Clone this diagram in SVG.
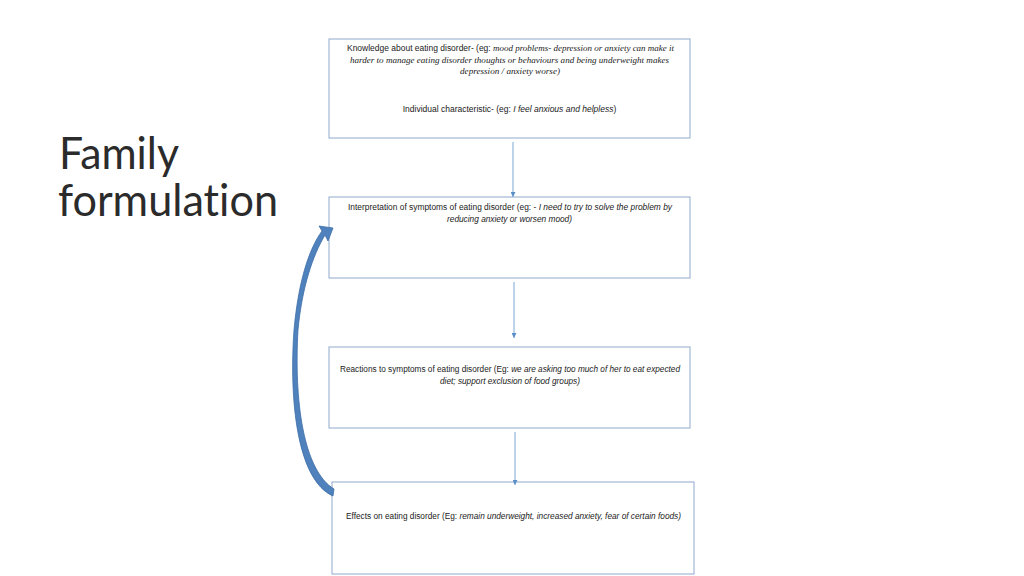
<svg xmlns="http://www.w3.org/2000/svg" width="1024" height="576" viewBox="0 0 1024 576">
<defs>
<style>
.box{fill:#fff;stroke:#8eaacc;stroke-width:1}
.t{font-family:"Liberation Sans",Arial,sans-serif;font-size:8.5px;fill:#1a1a1a}
.i{font-style:italic}
.s{font-family:"Liberation Serif","Times New Roman",serif;font-style:italic;font-size:9px}
.con{stroke:#7aa7d6;stroke-width:1;fill:none}
.title{font-family:Lato,"Liberation Sans",sans-serif;font-weight:400;font-size:44px;fill:#2b2b2b;font-variant-ligatures:none}
</style>
<marker id="ah" viewBox="0 0 6 6" refX="6" refY="3" markerWidth="5" markerHeight="5" orient="auto" markerUnits="userSpaceOnUse">
<path d="M0,0 L6,3 L0,6 Z" fill="#5b8fc7"/>
</marker>
</defs>
<rect width="1024" height="576" fill="#fff"/>
<g id="title">
<text class="title" x="59" y="169" textLength="120" lengthAdjust="spacingAndGlyphs">Family</text>
<text class="title" x="58" y="216" textLength="220" lengthAdjust="spacingAndGlyphs">formulation</text>
</g>
<g id="node1">
<rect class="box" x="329" y="39" width="361" height="99"/>
<text class="t" x="347" y="51" textLength="327" lengthAdjust="spacingAndGlyphs">Knowledge about eating disorder- (eg: <tspan class="s">mood problems- depression or anxiety can make it</tspan></text>
<text class="t s" x="350" y="63" textLength="319" lengthAdjust="spacingAndGlyphs">harder to manage eating disorder thoughts or behaviours and being underweight makes</text>
<text class="t s" x="460" y="74" textLength="100" lengthAdjust="spacingAndGlyphs">depression / anxiety worse)</text>
<text class="t" x="509.5" y="112" text-anchor="middle">Individual characteristic- (eg: <tspan class="i">I feel anxious and helpless</tspan>)</text>
</g>
<g id="node2">
<rect class="box" x="329" y="197" width="361" height="81"/>
<text class="t" x="348" y="210" textLength="324" lengthAdjust="spacingAndGlyphs">Interpretation of symptoms of eating disorder (eg: - <tspan class="i">I need to try to solve the problem by</tspan></text>
<text class="t i" x="447" y="222" textLength="125" lengthAdjust="spacingAndGlyphs">reducing anxiety or worsen mood)</text>
</g>
<g id="node3">
<rect class="box" x="329" y="347" width="361" height="81"/>
<text class="t" x="340" y="372" textLength="340" lengthAdjust="spacingAndGlyphs">Reactions to symptoms of eating disorder (Eg: <tspan class="i">we are asking too much of her to eat expected</tspan></text>
<text class="t i" x="440" y="384" textLength="140" lengthAdjust="spacingAndGlyphs">diet; support exclusion of food groups)</text>
</g>
<g id="node4">
<rect class="box" x="332" y="482" width="362" height="92"/>
<text class="t" x="346" y="519" textLength="335" lengthAdjust="spacingAndGlyphs">Effects on eating disorder (Eg: <tspan class="i">remain underweight, increased anxiety, fear of certain foods)</tspan></text>
</g>
<g id="connectors">
<line class="con" x1="513" y1="142" x2="513" y2="197" marker-end="url(#ah)"/>
<line class="con" x1="514" y1="282" x2="514" y2="338" marker-end="url(#ah)"/>
<line class="con" x1="515" y1="432" x2="515" y2="485" marker-end="url(#ah)"/>
<path d="M333,496 C297,480 289,400 294,330 C298,285 308,250 322,231 L319,226 L333,228 L328,241 L325,235 C313,255 302,287 298,330 C294,400 303,470 334,489 Z" fill="#4f81bd" stroke="#3f6fa8" stroke-width="0.8"/>
</g>
</svg>
